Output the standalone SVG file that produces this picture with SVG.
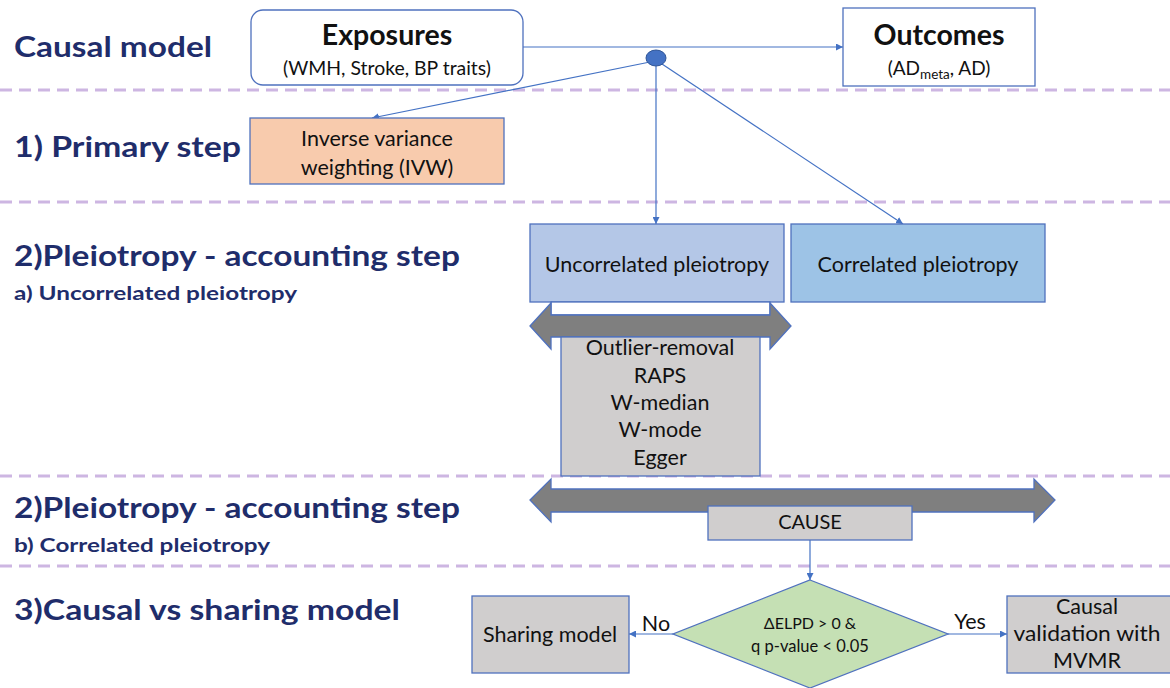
<svg xmlns="http://www.w3.org/2000/svg" width="1170" height="688" viewBox="0 0 1170 688">
<style>
.h{font-family:Lato,"Liberation Sans",sans-serif;font-weight:bold;fill:#1F2D6B;font-size:29px}
.hs{font-family:Lato,"Liberation Sans",sans-serif;font-weight:bold;fill:#1F2D6B;font-size:19.5px}
.t{font-family:Lato,"Liberation Sans",sans-serif;fill:#111;font-size:21.5px;text-anchor:middle}
.tb{font-family:Lato,"Liberation Sans",sans-serif;fill:#111;font-size:28.5px;font-weight:bold;text-anchor:middle}
.box{stroke:#4F71BE;stroke-width:1.3}
.dash{stroke:#CDB6E2;stroke-width:3;stroke-dasharray:12 7}
.con{stroke:#4472C4;stroke-width:1.2;fill:none}
.big{fill:#7F7F7F;stroke:#4F71BE;stroke-width:1.3}
</style>
<defs>
<marker id="ah" viewBox="0 0 10 10" refX="10" refY="5" markerWidth="7" markerHeight="7" orient="auto" markerUnits="userSpaceOnUse">
<path d="M0,0 L10,5 L0,10 z" fill="#4472C4"/>
</marker>
</defs>
<g id="dividers">
<line class="dash" x1="0" y1="90" x2="1170" y2="90"/>
<line class="dash" x1="0" y1="202" x2="1170" y2="202"/>
<line class="dash" x1="0" y1="476" x2="1170" y2="476"/>
<line class="dash" x1="0" y1="566" x2="1170" y2="566"/>
</g>
<g id="headings">
<text class="h" x="14" y="57" textLength="198" lengthAdjust="spacingAndGlyphs">Causal model</text>
<text class="h" x="14" y="157" textLength="227" lengthAdjust="spacingAndGlyphs">1) Primary step</text>
<text class="h" x="14" y="266" textLength="446" lengthAdjust="spacingAndGlyphs">2)Pleiotropy - accounting step</text>
<text class="hs" x="14" y="300" textLength="283" lengthAdjust="spacingAndGlyphs">a) Uncorrelated pleiotropy</text>
<text class="h" x="14" y="518" textLength="446" lengthAdjust="spacingAndGlyphs">2)Pleiotropy - accounting step</text>
<text class="hs" x="14" y="552" textLength="256" lengthAdjust="spacingAndGlyphs">b) Correlated pleiotropy</text>
<text class="h" x="14" y="620" textLength="386" lengthAdjust="spacingAndGlyphs">3)Causal vs sharing model</text>
</g>
<g id="connectors">
<line class="con" x1="523" y1="47" x2="843" y2="47" marker-end="url(#ah)"/>
<line class="con" x1="650" y1="62" x2="372" y2="118" marker-end="url(#ah)"/>
<line class="con" x1="656" y1="66" x2="656" y2="224" marker-end="url(#ah)"/>
<line class="con" x1="662" y1="64" x2="903" y2="224" marker-end="url(#ah)"/>
<line class="con" x1="810" y1="540" x2="810" y2="580" marker-end="url(#ah)"/>
<line class="con" x1="673" y1="634" x2="629" y2="634" marker-end="url(#ah)"/>
<line class="con" x1="948" y1="634" x2="1007" y2="634" marker-end="url(#ah)"/>
</g>
<g id="exposures">
<rect class="box" x="251" y="10" width="272" height="75" rx="12" fill="#fff"/>
<text class="tb" x="387" y="45">Exposures</text>
<text class="t" x="387" y="75" style="font-size:19.4px">(WMH, Stroke, BP traits)</text>
</g>
<g id="outcomes">
<rect class="box" x="843" y="8" width="192" height="78" fill="#fff"/>
<text class="tb" x="939" y="45">Outcomes</text>
<text class="t" x="939" y="75" style="font-size:19px">(AD<tspan font-size="13.5" dy="4">meta</tspan><tspan dy="-4">, AD)</tspan></text>
</g>
<g id="junction">
<ellipse cx="656" cy="58" rx="10" ry="8" fill="#4472C4" stroke="#2F5597" stroke-width="1"/>
</g>
<g id="ivw">
<rect class="box" x="250" y="118" width="254" height="66" fill="#F8CBAD"/>
<text class="t" x="377" y="146">Inverse variance</text>
<text class="t" x="377" y="175">weighting (IVW)</text>
</g>
<g id="uncorrelated">
<rect class="box" x="530" y="224" width="254" height="78" fill="#B4C7E7"/>
<text class="t" x="657" y="272">Uncorrelated pleiotropy</text>
</g>
<g id="correlated">
<rect class="box" x="791" y="224" width="254" height="78" fill="#9DC3E6"/>
<text class="t" x="918" y="272">Correlated pleiotropy</text>
</g>
<g id="arrow-uncorrelated">
<rect class="box" x="551" y="302" width="219" height="13" fill="#fff"/>
<path class="big" d="M530,326 L551,303 L551,315 L770,315 L770,303 L791,326 L770,349 L770,337 L551,337 L551,349 Z"/>
</g>
<g id="methods">
<rect class="box" x="561" y="337" width="199" height="139" fill="#D0CECE"/>
<text class="t" x="660" y="355">Outlier-removal</text>
<text class="t" x="660" y="383">RAPS</text>
<text class="t" x="660" y="410">W-median</text>
<text class="t" x="660" y="437">W-mode</text>
<text class="t" x="660" y="465">Egger</text>
</g>
<g id="arrow-correlated">
<path class="big" d="M530,500 L551,479 L551,489 L1034,489 L1034,479 L1055,500 L1034,522 L1034,512 L551,512 L551,522 Z"/>
</g>
<g id="cause">
<rect class="box" x="708" y="506" width="204" height="34" fill="#D0CECE"/>
<text class="t" x="810" y="529" style="font-size:20px">CAUSE</text>
</g>
<g id="decision">
<path class="box" d="M810,580 L948,634 L810,688 L673,634 Z" fill="#C5E0B4"/>
<text class="t" x="810" y="629" style="font-size:16px">ΔELPD &gt; 0 &amp;</text>
<text class="t" x="810" y="652" style="font-size:16.5px">q p-value &lt; 0.05</text>
</g>
<g id="sharing">
<rect class="box" x="472" y="596" width="157" height="77" fill="#D0CECE"/>
<text class="t" x="550" y="642">Sharing model</text>
</g>
<g id="causal-validation">
<rect class="box" x="1007" y="596" width="170" height="77" fill="#D0CECE"/>
<text class="t" x="1087" y="614">Causal</text>
<text class="t" x="1087" y="641" textLength="147" lengthAdjust="spacingAndGlyphs">validation with</text>
<text class="t" x="1087" y="668">MVMR</text>
</g>
<g id="labels">
<text class="t" x="656" y="631">No</text>
<text class="t" x="970" y="629">Yes</text>
</g>
</svg>
